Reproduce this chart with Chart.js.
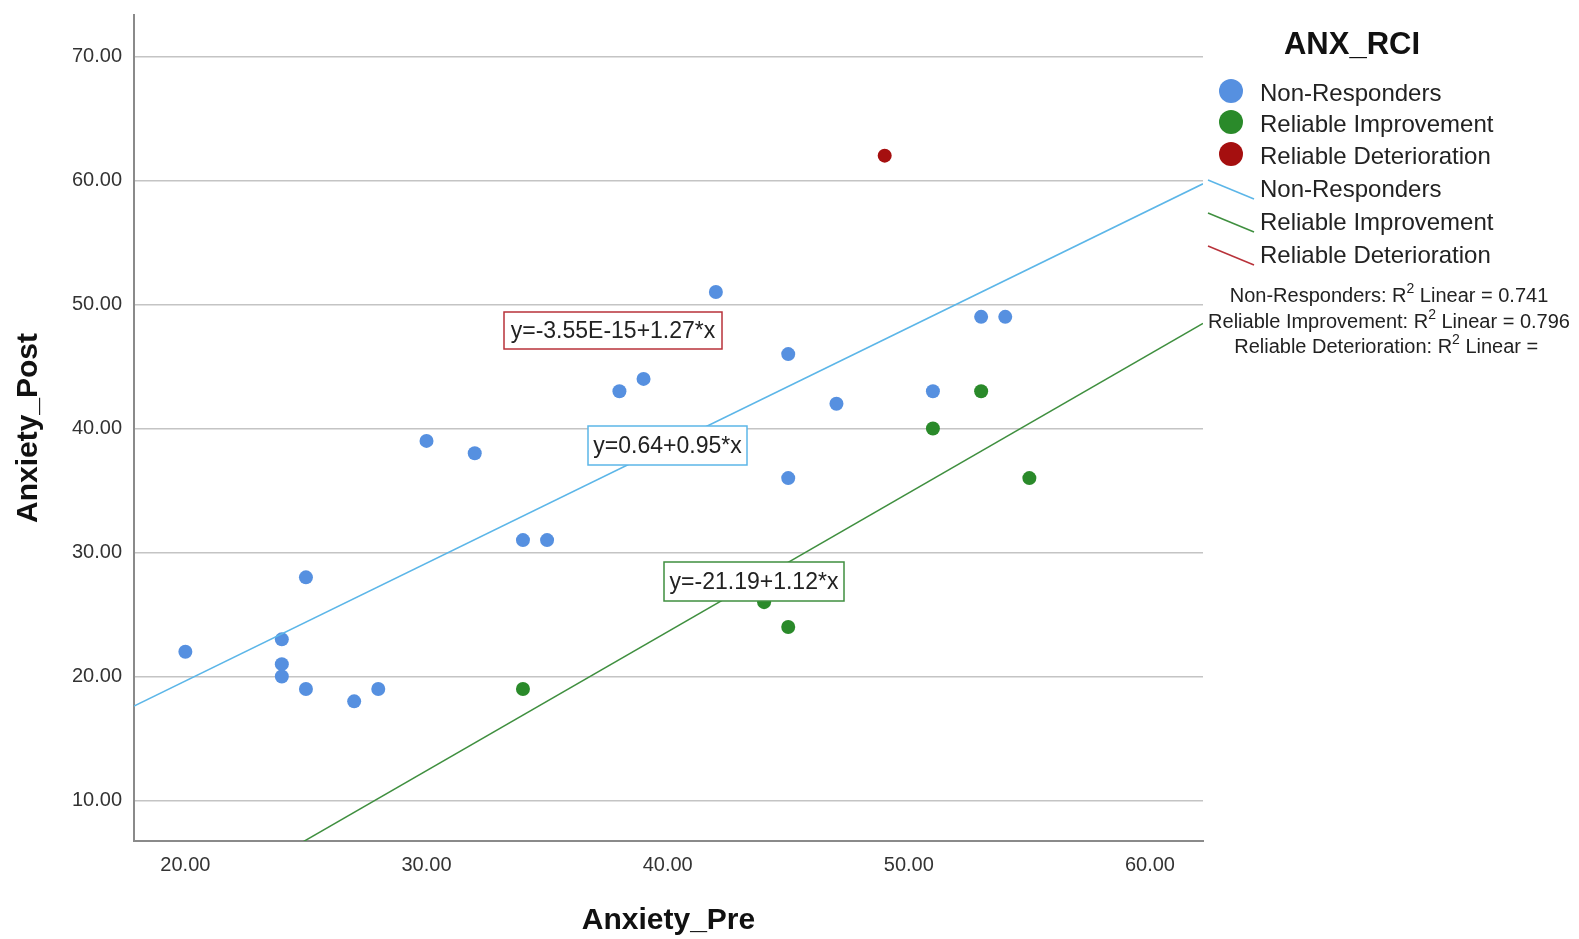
<!DOCTYPE html>
<html lang="en">
<head>
    <meta charset="UTF-8">
    <title>Anxiety Pre vs Post</title>
    <style>
        body {
            margin: 0;
            background-color: #ffffff;
        }
        #wrap {
            width: 1579px;
            height: 939px;
        }
    </style>
</head>
<body>
    <div id="wrap">
        <canvas id="scatter" width="1579" height="939"></canvas>
    </div>

    <script src="https://cdn.jsdelivr.net/npm/chart.js"></script>
    <script>
        // groups (ANX_RCI)
        const groupNames = ['Non-Responders', 'Reliable Improvement', 'Reliable Deterioration'];
        const groupColors = ['#5690e0', '#2a8a2a', '#a50f0f'];
        const lineColors = ['#5cb6e8', '#3f8f3f', '#b8323a'];

        // Anxiety_Pre / Anxiety_Post per group
        const nonRespPre  = [20, 24, 24, 24, 25, 25, 27, 28, 30, 32, 34, 35, 38, 39, 42, 45, 45, 47, 51, 53, 54];
        const nonRespPost = [22, 23, 21, 20, 28, 19, 18, 19, 39, 38, 31, 31, 43, 44, 51, 46, 36, 42, 43, 49, 49];
        const improvePre  = [34, 44, 45, 51, 53, 55];
        const improvePost = [19, 26, 24, 40, 43, 36];
        const deterPre    = [49];
        const deterPost   = [62];

        // fit lines (intercept, slope) and R2
        const fitIntercept = [0.64, -21.19, -3.55e-15];
        const fitSlope     = [0.95, 1.12, 1.27];
        const fitLabels    = ['y=0.64+0.95*x', 'y=-21.19+1.12*x', 'y=-3.55E-15+1.27*x'];
        const r2Values     = ['0.741', '0.796', ''];

        // axes
        const xMin = 17.87, xMax = 62.2;
        const yMin = 6.74, yMax = 73.34;

        function toPoints(xs, ys) {
            return xs.map((x, i) => ({ x: x, y: ys[i] }));
        }

        function fitLine(g) {
            return [xMin, xMax].map(x => ({ x: x, y: fitIntercept[g] + fitSlope[g] * x }));
        }

        const pointSets = [
            toPoints(nonRespPre, nonRespPost),
            toPoints(improvePre, improvePost),
            toPoints(deterPre, deterPost)
        ];

        const datasets = [];
        // fit lines first so points sit on top
        [0, 1].forEach(g => {
            datasets.push({
                type: 'line',
                data: fitLine(g),
                borderColor: lineColors[g],
                borderWidth: 1.5,
                pointRadius: 0,
                fill: false
            });
        });
        pointSets.forEach((pts, g) => {
            datasets.push({
                type: 'scatter',
                data: pts,
                backgroundColor: groupColors[g],
                borderColor: groupColors[g],
                borderWidth: 0,
                pointRadius: 7,
                pointHoverRadius: 7
            });
        });

        const FONT = '"Liberation Sans", Arial, sans-serif';

        // equation boxes + legend on the right
        const extras = {
            id: 'extras',
            afterDatasetsDraw(chart) {
                const ctx = chart.ctx;
                ctx.save();

                // equation boxes [left, top, width, height] per group
                const boxes = [
                    [588, 426, 159, 39],
                    [664, 562, 180, 39],
                    [504, 312, 218, 37]
                ];
                ctx.font = '23px ' + FONT;
                ctx.textAlign = 'center';
                ctx.textBaseline = 'middle';
                boxes.forEach((b, g) => {
                    ctx.fillStyle = '#ffffff';
                    ctx.fillRect(b[0], b[1], b[2], b[3]);
                    ctx.strokeStyle = lineColors[g];
                    ctx.lineWidth = 1.5;
                    ctx.strokeRect(b[0], b[1], b[2], b[3]);
                    ctx.fillStyle = '#222222';
                    ctx.fillText(fitLabels[g], b[0] + b[2] / 2, b[1] + b[3] / 2 + 1);
                });

                // legend title
                ctx.fillStyle = '#111111';
                ctx.font = 'bold 31px ' + FONT;
                ctx.fillText('ANX_RCI', 1352, 45);

                ctx.textAlign = 'left';
                ctx.font = '24px ' + FONT;
                const rowY = [94, 125, 157, 190, 223, 256];
                groupNames.forEach((name, g) => {
                    ctx.fillStyle = groupColors[g];
                    ctx.beginPath();
                    ctx.arc(1231, rowY[g] - 3, 12, 0, Math.PI * 2);
                    ctx.fill();
                    ctx.fillStyle = '#222222';
                    ctx.fillText(name, 1260, rowY[g]);
                });
                groupNames.forEach((name, g) => {
                    const y = rowY[g + 3];
                    ctx.strokeStyle = lineColors[g];
                    ctx.lineWidth = 1.5;
                    ctx.beginPath();
                    ctx.moveTo(1208, y - 10);
                    ctx.lineTo(1254, y + 9);
                    ctx.stroke();
                    ctx.fillStyle = '#222222';
                    ctx.fillText(name, 1260, y);
                });

                // R2 notes, centred
                const noteY = [296, 322, 347];
                const big = '20px ' + FONT, small = '14px ' + FONT;
                groupNames.forEach((name, g) => {
                    const a = name + ': R';
                    const b = ' Linear = ' + r2Values[g];
                    ctx.font = big;
                    const wa = ctx.measureText(a).width;
                    const wb = ctx.measureText(b).width;
                    ctx.font = small;
                    const ws = ctx.measureText('2').width;
                    let x = 1389 - (wa + ws + wb) / 2;
                    ctx.fillStyle = '#222222';
                    ctx.font = big;
                    ctx.fillText(a, x, noteY[g]);
                    x += wa;
                    ctx.font = small;
                    ctx.fillText('2', x, noteY[g] - 7);
                    x += ws;
                    ctx.font = big;
                    ctx.fillText(b, x, noteY[g]);
                });

                ctx.restore();
            }
        };

        const chart = new Chart(document.getElementById('scatter').getContext('2d'), {
            type: 'scatter',
            data: { datasets: datasets },
            plugins: [extras],
            options: {
                responsive: false,
                animation: false,
                layout: { padding: { top: 15, right: 376, bottom: 0, left: 0 } },
                plugins: {
                    legend: { display: false },
                    tooltip: { enabled: false }
                },
                scales: {
                    x: {
                        type: 'linear',
                        min: xMin,
                        max: xMax,
                        afterFit: s => { s.height = 98; s.paddingLeft = 0; s.paddingRight = 0; },
                        ticks: {
                            stepSize: 10,
                            includeBounds: false,
                            padding: 12,
                            color: '#333333',
                            font: { family: FONT, size: 20 },
                            callback: v => v.toFixed(2)
                        },
                        grid: { display: false, drawTicks: false },
                        border: { display: true, color: '#8a8a8a', width: 2 },
                        title: {
                            display: true,
                            text: 'Anxiety_Pre',
                            color: '#111111',
                            font: { family: FONT, size: 30, weight: 'bold' },
                            padding: { top: 0, bottom: 0 }
                        }
                    },
                    y: {
                        type: 'linear',
                        min: yMin,
                        max: yMax,
                        afterFit: s => { s.width = 134; s.paddingTop = 0; s.paddingBottom = 0; },
                        ticks: {
                            stepSize: 10,
                            includeBounds: false,
                            padding: 12,
                            color: '#333333',
                            font: { family: FONT, size: 20 },
                            callback: v => v.toFixed(2)
                        },
                        grid: { display: true, drawTicks: false, color: '#c4c4c4', lineWidth: 1.5 },
                        border: { display: true, color: '#8a8a8a', width: 2 },
                        title: {
                            display: true,
                            text: 'Anxiety_Post',
                            color: '#111111',
                            font: { family: FONT, size: 30, weight: 'bold' },
                            padding: { top: 11, bottom: 0 }
                        }
                    }
                }
            }
        });
    </script>
</body>
</html>
